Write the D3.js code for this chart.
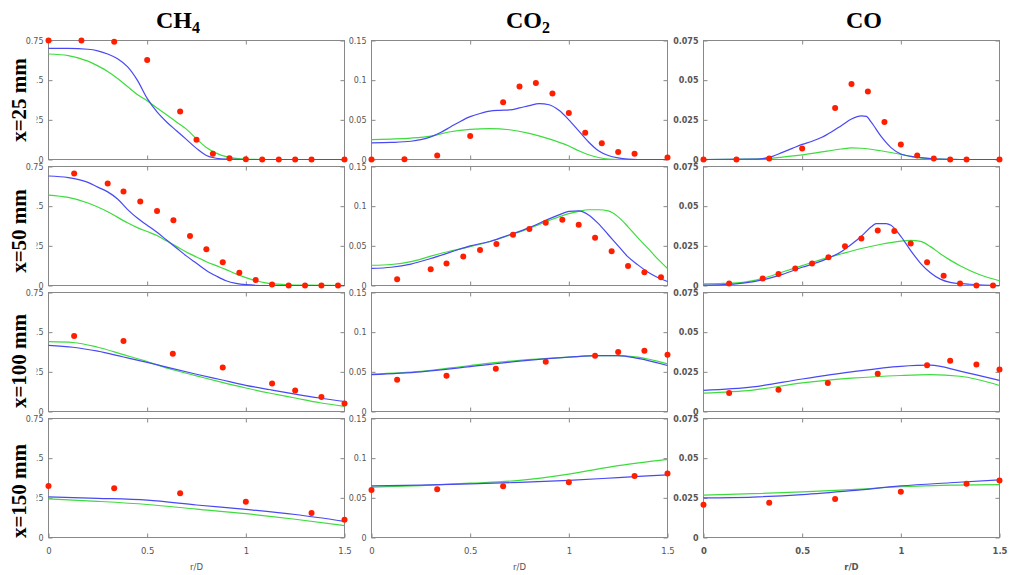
<!DOCTYPE html>
<html>
<head>
<meta charset="utf-8">
<script src="https://cdn.jsdelivr.net/npm/d3@7"></script>
<style>
  body { margin: 0; background: #fff; }
  svg { display: block; }
  .tick text { fill: #555; font-family: "DejaVu Sans", sans-serif; font-size: 8px; }
  .tick line { stroke: #888; }
  .frame { fill: none; stroke: #888; stroke-width: 1; }
</style>
</head>
<body>
<svg id="chart"></svg>
<script>
// ---- data ----
const colTitles = [["CH", "4"], ["CO", "2"], ["CO", ""]];
const rowLabels = ["x=25 mm", "x=50 mm", "x=100 mm", "x=150 mm"];
const xTicks = [0, 0.5, 1, 1.5];
const xTickLabels = ["0", "0.5", "1", "1.5"];
const yMaxes = [0.75, 0.15, 0.075];
const yTicks = [[0, 0.25, 0.5, 0.75], [0, 0.05, 0.1, 0.15], [0, 0.025, 0.05, 0.075]];
const yTickLabels = [["0", "0.25", "0.5", "0.75"], ["0", "0.05", "0.1", "0.15"], ["0", "0.025", "0.05", "0.075"]];

// experimental radial positions per station
const rExp25 = [0, 0.167, 0.333, 0.5, 0.667, 0.75, 0.833, 0.917, 1.0, 1.083, 1.167, 1.25, 1.333, 1.5];
const rExp50 = [0.13, 0.3, 0.38, 0.465, 0.55, 0.633, 0.717, 0.8, 0.883, 0.967, 1.05, 1.133, 1.217, 1.3, 1.383, 1.467];
const rExp100 = [0.13, 0.38, 0.63, 0.883, 1.133, 1.25, 1.383, 1.5];
const rExp150 = [0, 0.333, 0.667, 1.0, 1.333, 1.5];

// experimental values (red dots)
const ch4Exp25 = [0.75, 0.75, 0.742, 0.627, 0.303, 0.125, 0.036, 0.008, 0.002, 0, 0, 0, 0, 0];
const ch4Exp50 = [0.706, 0.643, 0.593, 0.53, 0.469, 0.411, 0.312, 0.228, 0.147, 0.08, 0.034, 0.006, 0, 0, 0, 0];
const ch4Exp100 = [0.476, 0.445, 0.364, 0.278, 0.177, 0.133, 0.091, 0.051];
const ch4Exp150 = [0.325, 0.31, 0.279, 0.225, 0.154, 0.1125];
const co2Exp25 = [0, 0.0004, 0.005, 0.0297, 0.0723, 0.0919, 0.0965, 0.0831, 0.0585, 0.0338, 0.0205, 0.0096, 0.0071, 0.0025];
const co2Exp50 = [0.008, 0.0205, 0.0277, 0.0365, 0.0448, 0.0524, 0.0641, 0.0712, 0.0792, 0.083, 0.0767, 0.0603, 0.0432, 0.0247, 0.0168, 0.0105];
const co2Exp100 = [0.04, 0.0451, 0.0539, 0.0628, 0.0704, 0.075, 0.0767, 0.0716];
const co2Exp150 = [0.06, 0.0608, 0.0646, 0.0696, 0.0775, 0.0808];
const coExp25 = [0, 0, 0.0006, 0.0069, 0.0324, 0.0476, 0.0428, 0.0236, 0.0094, 0.0025, 0.0006, 0, 0, 0];
const coExp50 = [0.0013, 0.0044, 0.0073, 0.0107, 0.0138, 0.0178, 0.0247, 0.0297, 0.0346, 0.0344, 0.0264, 0.0147, 0.0061, 0.0013, 0, 0];
const coExp100 = [0.0116, 0.0137, 0.0179, 0.0238, 0.0291, 0.032, 0.0297, 0.0265];
const coExp150 = [0.0206, 0.0219, 0.0242, 0.0288, 0.0338, 0.036];

// model curves [r, value]: blue and green
const ch4Blue25 = [[0,0.70],[0.1,0.70],[0.2,0.695],[0.25,0.685],[0.3,0.665],[0.35,0.635],[0.4,0.585],[0.45,0.5],[0.5,0.385],[0.55,0.3],[0.6,0.235],[0.65,0.18],[0.7,0.125],[0.75,0.07],[0.8,0.025],[0.85,0.008],[0.9,0.002],[1.0,0],[1.5,0]];
const ch4Green25 = [[0,0.665],[0.1,0.655],[0.2,0.62],[0.25,0.59],[0.3,0.555],[0.35,0.51],[0.4,0.46],[0.45,0.41],[0.5,0.37],[0.55,0.325],[0.6,0.28],[0.65,0.235],[0.7,0.19],[0.75,0.13],[0.8,0.075],[0.85,0.04],[0.9,0.018],[0.95,0.007],[1.0,0.002],[1.1,0],[1.5,0]];
const ch4Blue50 = [[0,0.69],[0.1,0.68],[0.2,0.65],[0.25,0.62],[0.3,0.59],[0.35,0.545],[0.4,0.48],[0.45,0.425],[0.5,0.38],[0.55,0.335],[0.6,0.285],[0.65,0.235],[0.7,0.185],[0.75,0.14],[0.8,0.095],[0.85,0.06],[0.9,0.03],[0.95,0.013],[1.0,0.005],[1.1,0],[1.5,0]];
const ch4Green50 = [[0,0.57],[0.1,0.555],[0.2,0.52],[0.3,0.465],[0.4,0.395],[0.45,0.365],[0.5,0.34],[0.55,0.315],[0.6,0.28],[0.65,0.245],[0.7,0.21],[0.75,0.18],[0.8,0.15],[0.85,0.125],[0.9,0.1],[0.95,0.073],[1.0,0.05],[1.05,0.03],[1.1,0.017],[1.2,0.006],[1.3,0.002],[1.5,0]];
const ch4Blue100 = [[0,0.417],[0.125,0.405],[0.25,0.38],[0.375,0.345],[0.5,0.31],[0.625,0.272],[0.75,0.235],[0.875,0.2],[1.0,0.165],[1.125,0.137],[1.25,0.11],[1.375,0.085],[1.5,0.063]];
const ch4Green100 = [[0,0.44],[0.125,0.435],[0.25,0.405],[0.375,0.36],[0.5,0.315],[0.625,0.265],[0.75,0.225],[0.875,0.185],[1.0,0.148],[1.125,0.115],[1.25,0.085],[1.375,0.055],[1.5,0.032]];
const ch4Blue150 = [[0,0.256],[0.25,0.247],[0.5,0.235],[0.75,0.205],[1.0,0.177],[1.25,0.145],[1.5,0.102]];
const ch4Green150 = [[0,0.244],[0.25,0.228],[0.5,0.208],[0.75,0.179],[1.0,0.15],[1.25,0.115],[1.5,0.075]];

const co2Blue25 = [[0,0.021],[0.1,0.0215],[0.2,0.023],[0.25,0.025],[0.3,0.0285],[0.35,0.034],[0.4,0.041],[0.45,0.048],[0.5,0.054],[0.55,0.058],[0.6,0.061],[0.65,0.062],[0.7,0.0625],[0.75,0.065],[0.8,0.068],[0.85,0.0705],[0.9,0.069],[0.95,0.062],[1.0,0.05],[1.05,0.036],[1.1,0.022],[1.15,0.011],[1.2,0.005],[1.25,0.002],[1.3,0.0005],[1.35,0],[1.5,0]];
const co2Green25 = [[0,0.025],[0.1,0.0258],[0.2,0.027],[0.3,0.0295],[0.4,0.035],[0.5,0.038],[0.6,0.039],[0.7,0.0375],[0.8,0.033],[0.9,0.026],[1.0,0.017],[1.05,0.011],[1.1,0.006],[1.15,0.0025],[1.2,0.0005],[1.25,0],[1.5,0]];
const co2Blue50 = [[0,0.0215],[0.1,0.023],[0.2,0.027],[0.3,0.034],[0.4,0.042],[0.5,0.05],[0.6,0.0555],[0.7,0.064],[0.8,0.073],[0.9,0.084],[0.95,0.089],[1.0,0.0935],[1.05,0.094],[1.1,0.089],[1.15,0.078],[1.2,0.064],[1.25,0.05],[1.3,0.036],[1.35,0.026],[1.4,0.017],[1.45,0.01],[1.5,0.005]];
const co2Green50 = [[0,0.0255],[0.1,0.0265],[0.2,0.03],[0.3,0.037],[0.4,0.0435],[0.5,0.049],[0.6,0.0555],[0.7,0.0635],[0.8,0.072],[0.9,0.082],[1.0,0.0905],[1.05,0.0935],[1.1,0.0955],[1.15,0.0955],[1.2,0.094],[1.25,0.0865],[1.3,0.074],[1.35,0.06],[1.4,0.047],[1.45,0.0335],[1.5,0.0215]];
const co2Blue100 = [[0,0.0465],[0.25,0.05],[0.5,0.0565],[0.75,0.0635],[1.0,0.0685],[1.15,0.0705],[1.25,0.0705],[1.35,0.067],[1.5,0.058]];
const co2Green100 = [[0,0.047],[0.25,0.0505],[0.5,0.058],[0.75,0.0645],[1.0,0.0685],[1.15,0.0705],[1.25,0.0705],[1.35,0.0685],[1.5,0.06]];
const co2Blue150 = [[0,0.065],[0.25,0.066],[0.5,0.0675],[0.75,0.0695],[1.0,0.072],[1.25,0.0755],[1.5,0.079]];
const co2Green150 = [[0,0.0635],[0.25,0.0655],[0.5,0.0685],[0.75,0.072],[1.0,0.08],[1.25,0.0905],[1.5,0.0985]];

const coBlue25 = [[0,0],[0.25,0.0002],[0.3,0.0006],[0.35,0.002],[0.4,0.0045],[0.45,0.007],[0.5,0.0095],[0.55,0.0115],[0.6,0.014],[0.65,0.0175],[0.7,0.0215],[0.75,0.0255],[0.8,0.0275],[0.825,0.0272],[0.85,0.0235],[0.9,0.0145],[0.95,0.0075],[1.0,0.0035],[1.05,0.002],[1.1,0.0012],[1.2,0.0002],[1.3,0],[1.5,0]];
const coGreen25 = [[0,0],[0.3,0.0004],[0.4,0.0015],[0.5,0.0029],[0.6,0.0048],[0.7,0.0066],[0.75,0.0073],[0.8,0.0071],[0.9,0.0055],[1.0,0.0032],[1.1,0.001],[1.2,0.0002],[1.3,0],[1.5,0]];
const coBlue50 = [[0,0.0002],[0.1,0.0005],[0.2,0.0015],[0.3,0.0035],[0.4,0.007],[0.5,0.0115],[0.6,0.0155],[0.7,0.0215],[0.75,0.026],[0.8,0.031],[0.85,0.037],[0.875,0.039],[0.925,0.039],[0.95,0.038],[1.0,0.031],[1.05,0.022],[1.1,0.014],[1.15,0.008],[1.2,0.004],[1.25,0.002],[1.35,0.0008],[1.5,0]];
const coGreen50 = [[0,0.001],[0.1,0.0013],[0.2,0.002],[0.3,0.0045],[0.4,0.0085],[0.5,0.0125],[0.6,0.0165],[0.7,0.02],[0.8,0.0233],[0.9,0.026],[1.0,0.028],[1.05,0.0285],[1.1,0.0278],[1.15,0.0245],[1.2,0.02],[1.25,0.016],[1.3,0.0125],[1.4,0.0068],[1.5,0.003]];
const coBlue100 = [[0,0.0133],[0.25,0.0155],[0.5,0.0205],[0.75,0.025],[1.0,0.0285],[1.15,0.0292],[1.3,0.0255],[1.5,0.0196]];
const coGreen100 = [[0,0.0116],[0.25,0.0135],[0.5,0.018],[0.75,0.021],[1.0,0.0227],[1.15,0.0232],[1.3,0.0222],[1.5,0.0164]];
const coBlue150 = [[0,0.025],[0.25,0.0255],[0.5,0.027],[0.75,0.0295],[1.0,0.0325],[1.25,0.0345],[1.5,0.0363]];
const coGreen150 = [[0,0.0267],[0.25,0.0276],[0.5,0.0288],[0.75,0.0302],[1.0,0.032],[1.25,0.033],[1.5,0.0333]];

// ---- layout ----
const width = 1010, height = 575;
const colLeft = [48.5, 371.5, 703.5];
const rowTop = [40.5, 166.5, 292.5, 418.5];
const panelW = 296, panelH = 119;
const titleX = [178, 528, 864];
const rowLabelY = [100, 231, 361, 491];

class Panel {
    constructor(_config, _exp, _blue, _green) {
        this.config = {
            parentElement: _config.parentElement,
            left: _config.left,
            top: _config.top,
            width: _config.width,
            height: _config.height,
            yMax: _config.yMax,
            yTicks: _config.yTicks,
            yLabels: _config.yLabels,
            showX: _config.showX,
            bold: _config.bold
        };
        this.exp = _exp;
        this.blue = _blue;
        this.green = _green;
        this.initVis();
    }

    initVis() {
        let vis = this;
        let w = vis.config.width, h = vis.config.height;

        vis.chart = d3.select(vis.config.parentElement).append('g')
            .attr('transform', `translate(${vis.config.left}, ${vis.config.top})`);

        vis.xScale = d3.scaleLinear().domain([0, 1.5]).range([0, w]);
        vis.yScale = d3.scaleLinear().domain([0, vis.config.yMax]).range([h, 0]);

        // inward ticks on all four sides
        let labels = vis.config.yLabels;
        let yLeft = vis.chart.append('g')
            .attr('class', 'axis y-axis')
            .call(d3.axisLeft(vis.yScale).tickValues(vis.config.yTicks)
                .tickSizeInner(-4).tickSizeOuter(0).tickPadding(5)
                .tickFormat((d, i) => labels[i]));
        vis.chart.append('g')
            .attr('transform', `translate(${w},0)`)
            .call(d3.axisRight(vis.yScale).tickValues(vis.config.yTicks)
                .tickSizeInner(-4).tickSizeOuter(0).tickFormat(''));
        vis.chart.append('g')
            .call(d3.axisTop(vis.xScale).tickValues([0.5, 1])
                .tickSizeInner(-4).tickSizeOuter(0).tickFormat(''));
        let xBottom = vis.chart.append('g')
            .attr('class', 'axis x-axis')
            .attr('transform', `translate(0,${h})`)
            .call(d3.axisBottom(vis.xScale).tickValues(vis.config.showX ? xTicks : [0.5, 1])
                .tickSizeInner(-4).tickSizeOuter(0).tickPadding(10)
                .tickFormat((d, i) => vis.config.showX ? xTickLabels[i] : ''));
        vis.chart.selectAll('.domain').remove();

        if (vis.config.bold) {
            yLeft.selectAll('text').attr('font-weight', 'bold');
            xBottom.selectAll('text').attr('font-weight', 'bold');
        }
        xBottom.selectAll('text').style('font-size', '8.5px');

        vis.chart.append('rect')
            .attr('class', 'frame')
            .attr('width', w)
            .attr('height', h);

        if (vis.config.showX) {
            vis.chart.append('text')
                .attr('x', w / 2)
                .attr('y', h + 32)
                .attr('text-anchor', 'middle')
                .attr('fill', '#555')
                .attr('font-family', 'DejaVu Sans, sans-serif')
                .attr('font-size', 8.5)
                .attr('font-weight', vis.config.bold ? 'bold' : 'normal')
                .text('r/D');
        }

        vis.renderVis();
    }

    renderVis() {
        let vis = this;
        let line = d3.line()
            .x(d => vis.xScale(d[0]))
            .y(d => vis.yScale(d[1]))
            .curve(d3.curveMonotoneX);

        vis.chart.append('path')
            .datum(vis.green)
            .attr('fill', 'none')
            .attr('stroke', '#3ddc3d')
            .attr('stroke-width', 1.2)
            .attr('d', line);

        vis.chart.append('path')
            .datum(vis.blue)
            .attr('fill', 'none')
            .attr('stroke', '#4848f4')
            .attr('stroke-width', 1.2)
            .attr('d', line);

        vis.chart.selectAll('circle')
            .data(vis.exp)
            .join('circle')
                .attr('cx', d => vis.xScale(d[0]))
                .attr('cy', d => vis.yScale(d[1]))
                .attr('r', 3)
                .attr('fill', '#ff1e00');
    }
}

const svg = d3.select('#chart').attr('width', width).attr('height', height);

const rGrids = [rExp25, rExp50, rExp100, rExp150];
const expSets = [
    [ch4Exp25, co2Exp25, coExp25],
    [ch4Exp50, co2Exp50, coExp50],
    [ch4Exp100, co2Exp100, coExp100],
    [ch4Exp150, co2Exp150, coExp150]
];
const blueSets = [
    [ch4Blue25, co2Blue25, coBlue25],
    [ch4Blue50, co2Blue50, coBlue50],
    [ch4Blue100, co2Blue100, coBlue100],
    [ch4Blue150, co2Blue150, coBlue150]
];
const greenSets = [
    [ch4Green25, co2Green25, coGreen25],
    [ch4Green50, co2Green50, coGreen50],
    [ch4Green100, co2Green100, coGreen100],
    [ch4Green150, co2Green150, coGreen150]
];

for (let row = 0; row < 4; row++) {
    for (let col = 0; col < 3; col++) {
        let exp = rGrids[row].map((r, i) => [r, expSets[row][col][i]]);
        new Panel({
            parentElement: '#chart',
            left: colLeft[col],
            top: rowTop[row],
            width: panelW,
            height: panelH,
            yMax: yMaxes[col],
            yTicks: yTicks[col],
            yLabels: yTickLabels[col],
            showX: row === 3,
            bold: col === 2
        }, exp, blueSets[row][col], greenSets[row][col]);
    }
}

// column titles
colTitles.forEach((t, i) => {
    let txt = svg.append('text')
        .attr('x', titleX[i])
        .attr('y', 28)
        .attr('text-anchor', 'middle')
        .attr('font-family', 'Liberation Serif, serif')
        .attr('font-weight', 'bold')
        .attr('font-size', 24)
        .text(t[0]);
    if (t[1]) {
        txt.append('tspan')
            .attr('dy', 5)
            .attr('font-size', 16)
            .text(t[1]);
    }
});

// row labels (white box behind, as in the source figure)
rowLabels.forEach((t, i) => {
    svg.append('rect')
        .attr('x', 0)
        .attr('y', rowTop[i] + 9)
        .attr('width', 36.5)
        .attr('height', panelH - 14)
        .attr('fill', '#fff');
    svg.append('text')
        .attr('transform', `translate(25.5, ${rowLabelY[i]}) rotate(-90)`)
        .attr('text-anchor', 'middle')
        .attr('font-family', 'Liberation Serif, serif')
        .attr('font-weight', 'bold')
        .attr('font-size', 21)
        .text(t);
});
</script>
</body>
</html>
